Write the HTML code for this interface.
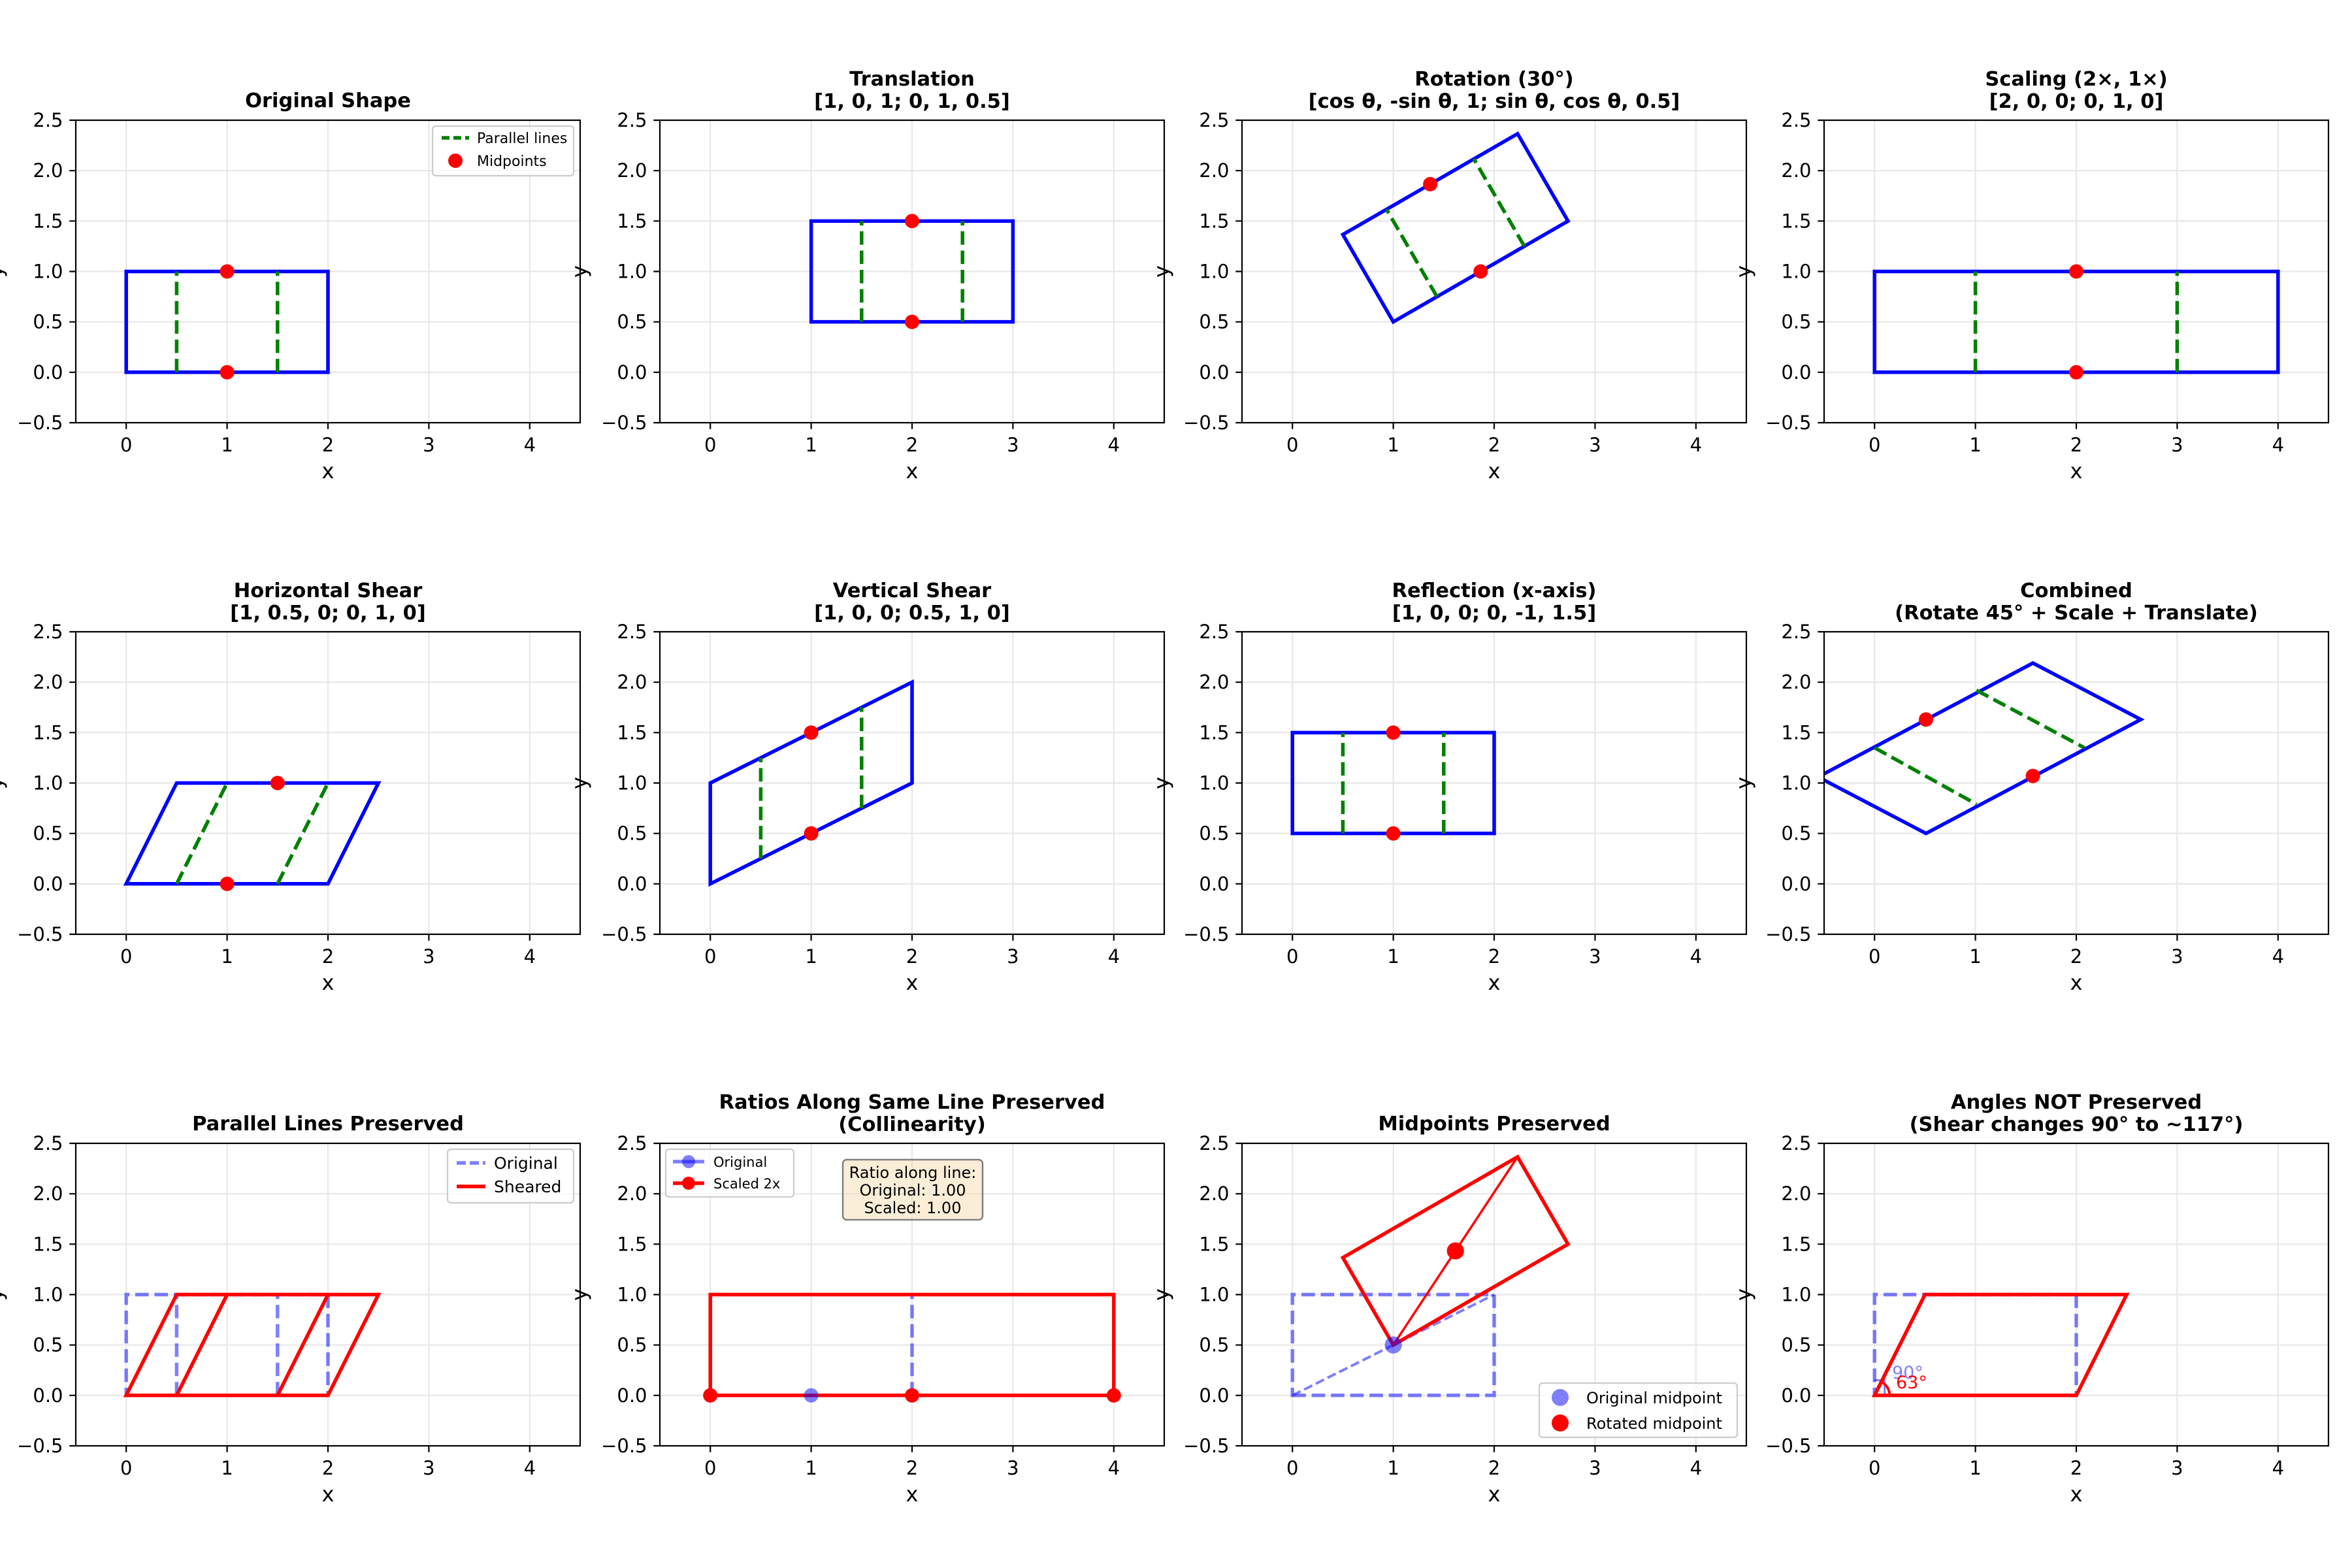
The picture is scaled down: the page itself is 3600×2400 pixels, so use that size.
<!DOCTYPE html>
<html><head><meta charset="utf-8"><style>
html,body{margin:0;padding:0;background:#fff}
svg{display:block}
text{font-family:"DejaVu Sans","Liberation Sans",sans-serif;fill:#000}
.grid{stroke:#b0b0b0;stroke-opacity:.3;stroke-width:2.2;fill:none}
.frame{fill:none;stroke:#000;stroke-width:2.2}
.tk{stroke:#000;stroke-width:2.2;fill:none}
.xt text{font-size:29px;text-anchor:middle}
.yt text{font-size:29px;text-anchor:end}
.xl{font-size:32px;text-anchor:middle}
.yl{font-size:32px;text-anchor:middle}
.t{font-size:30.5px;font-weight:bold;text-anchor:middle}
.s{fill:none;vector-effect:non-scaling-stroke;stroke-width:5.5;stroke-linejoin:miter}
.b{stroke:#0000ff}
.r{stroke:#ff0000}
.g{stroke:#008000;stroke-dasharray:20.6 8.9}
.ob{stroke:#0000ff;stroke-opacity:.5;stroke-dasharray:20.6 8.9}
.lg{fill:#fff;fill-opacity:.8;stroke:#ccc;stroke-width:2.2}
</style></head><body>
<svg width="3600" height="2400" viewBox="0 0 3600 2400" xmlns="http://www.w3.org/2000/svg">
<defs><clipPath id="c" clipPathUnits="userSpaceOnUse"><rect x="-0.5" y="-0.5" width="5" height="3"/></clipPath></defs>
<rect width="3600" height="2400" fill="#fff"/>

<!-- Panel 1 -->
<g transform="translate(116,184)">
<path class="grid" d="M77.2 0V463M231.6 0V463M386 0V463M540.4 0V463M694.8 0V463M0 77.2H772M0 154.3H772M0 231.5H772M0 308.7H772M0 385.8H772"/>
<g transform="translate(77.2,385.8) scale(154.4,-154.3)" clip-path="url(#c)">
<path class="s b" d="M0 0H2V1H0Z"/>
<path class="s g" d="M0.5 0V1M1.5 0V1"/>
<circle cx="1" cy="0" r="0.0713" fill="#f00"/><circle cx="1" cy="1" r="0.0713" fill="#f00"/>
</g>
<rect class="frame" width="772" height="463"/>
<path class="tk" d="M77.2 463v9.7M231.6 463v9.7M386 463v9.7M540.4 463v9.7M694.8 463v9.7M0 0h-9.7M0 77.2h-9.7M0 154.3h-9.7M0 231.5h-9.7M0 308.7h-9.7M0 385.8h-9.7M0 463h-9.7"/>
<g class="xt"><text x="77.2" y="507">0</text><text x="231.6" y="507">1</text><text x="386" y="507">2</text><text x="540.4" y="507">3</text><text x="694.8" y="507">4</text></g>
<g class="yt"><text x="-19.5" y="10">2.5</text><text x="-19.5" y="87.2">2.0</text><text x="-19.5" y="164.3">1.5</text><text x="-19.5" y="241.5">1.0</text><text x="-19.5" y="318.7">0.5</text><text x="-19.5" y="395.8">0.0</text><text x="-19.5" y="473">−0.5</text></g>
<text class="xl" x="386" y="548">x</text>
<text class="yl" transform="translate(-112,231.5) rotate(-90)">y</text>
<text class="t" x="386" y="-20">Original Shape</text>
<rect class="lg" x="546" y="9" width="216" height="76" rx="5"/>
<path d="M560 27H602" stroke="#008000" stroke-width="5.5" stroke-dasharray="12 6"/>
<text x="614" y="35" font-size="22">Parallel lines</text>
<circle cx="581" cy="62" r="11" fill="#f00"/>
<text x="614" y="70" font-size="22">Midpoints</text>
</g>

<!-- Panel 2 -->
<g transform="translate(1010,184)">
<path class="grid" d="M77.2 0V463M231.6 0V463M386 0V463M540.4 0V463M694.8 0V463M0 77.2H772M0 154.3H772M0 231.5H772M0 308.7H772M0 385.8H772"/>
<g transform="translate(77.2,385.8) scale(154.4,-154.3)" clip-path="url(#c)">
<path class="s b" d="M1 0.5H3V1.5H1Z"/>
<path class="s g" d="M1.5 0.5V1.5M2.5 0.5V1.5"/>
<circle cx="2" cy="0.5" r="0.0713" fill="#f00"/><circle cx="2" cy="1.5" r="0.0713" fill="#f00"/>
</g>
<rect class="frame" width="772" height="463"/>
<path class="tk" d="M77.2 463v9.7M231.6 463v9.7M386 463v9.7M540.4 463v9.7M694.8 463v9.7M0 0h-9.7M0 77.2h-9.7M0 154.3h-9.7M0 231.5h-9.7M0 308.7h-9.7M0 385.8h-9.7M0 463h-9.7"/>
<g class="xt"><text x="77.2" y="507">0</text><text x="231.6" y="507">1</text><text x="386" y="507">2</text><text x="540.4" y="507">3</text><text x="694.8" y="507">4</text></g>
<g class="yt"><text x="-19.5" y="10">2.5</text><text x="-19.5" y="87.2">2.0</text><text x="-19.5" y="164.3">1.5</text><text x="-19.5" y="241.5">1.0</text><text x="-19.5" y="318.7">0.5</text><text x="-19.5" y="395.8">0.0</text><text x="-19.5" y="473">−0.5</text></g>
<text class="xl" x="386" y="548">x</text>
<text class="yl" transform="translate(-112,231.5) rotate(-90)">y</text>
<text class="t" x="386" y="-53">Translation</text>
<text class="t" x="386" y="-19">[1, 0, 1; 0, 1, 0.5]</text>
</g>

<!-- Panel 3 -->
<g transform="translate(1901,184)">
<path class="grid" d="M77.2 0V463M231.6 0V463M386 0V463M540.4 0V463M694.8 0V463M0 77.2H772M0 154.3H772M0 231.5H772M0 308.7H772M0 385.8H772"/>
<g transform="translate(77.2,385.8) scale(154.4,-154.3)" clip-path="url(#c)">
<path class="s b" d="M1 0.5L2.732 1.5L2.232 2.366L0.5 1.366Z"/>
<path class="s g" d="M1.433 0.75L0.933 1.616M2.299 1.25L1.799 2.116"/>
<circle cx="1.866" cy="1" r="0.0713" fill="#f00"/><circle cx="1.366" cy="1.866" r="0.0713" fill="#f00"/>
</g>
<rect class="frame" width="772" height="463"/>
<path class="tk" d="M77.2 463v9.7M231.6 463v9.7M386 463v9.7M540.4 463v9.7M694.8 463v9.7M0 0h-9.7M0 77.2h-9.7M0 154.3h-9.7M0 231.5h-9.7M0 308.7h-9.7M0 385.8h-9.7M0 463h-9.7"/>
<g class="xt"><text x="77.2" y="507">0</text><text x="231.6" y="507">1</text><text x="386" y="507">2</text><text x="540.4" y="507">3</text><text x="694.8" y="507">4</text></g>
<g class="yt"><text x="-19.5" y="10">2.5</text><text x="-19.5" y="87.2">2.0</text><text x="-19.5" y="164.3">1.5</text><text x="-19.5" y="241.5">1.0</text><text x="-19.5" y="318.7">0.5</text><text x="-19.5" y="395.8">0.0</text><text x="-19.5" y="473">−0.5</text></g>
<text class="xl" x="386" y="548">x</text>
<text class="yl" transform="translate(-112,231.5) rotate(-90)">y</text>
<text class="t" x="386" y="-53">Rotation (30°)</text>
<text class="t" x="386" y="-19">[cos θ, -sin θ, 1; sin θ, cos θ, 0.5]</text>
</g>

<!-- Panel 4 -->
<g transform="translate(2792,184)">
<path class="grid" d="M77.2 0V463M231.6 0V463M386 0V463M540.4 0V463M694.8 0V463M0 77.2H772M0 154.3H772M0 231.5H772M0 308.7H772M0 385.8H772"/>
<g transform="translate(77.2,385.8) scale(154.4,-154.3)" clip-path="url(#c)">
<path class="s b" d="M0 0H4V1H0Z"/>
<path class="s g" d="M1 0V1M3 0V1"/>
<circle cx="2" cy="0" r="0.0713" fill="#f00"/><circle cx="2" cy="1" r="0.0713" fill="#f00"/>
</g>
<rect class="frame" width="772" height="463"/>
<path class="tk" d="M77.2 463v9.7M231.6 463v9.7M386 463v9.7M540.4 463v9.7M694.8 463v9.7M0 0h-9.7M0 77.2h-9.7M0 154.3h-9.7M0 231.5h-9.7M0 308.7h-9.7M0 385.8h-9.7M0 463h-9.7"/>
<g class="xt"><text x="77.2" y="507">0</text><text x="231.6" y="507">1</text><text x="386" y="507">2</text><text x="540.4" y="507">3</text><text x="694.8" y="507">4</text></g>
<g class="yt"><text x="-19.5" y="10">2.5</text><text x="-19.5" y="87.2">2.0</text><text x="-19.5" y="164.3">1.5</text><text x="-19.5" y="241.5">1.0</text><text x="-19.5" y="318.7">0.5</text><text x="-19.5" y="395.8">0.0</text><text x="-19.5" y="473">−0.5</text></g>
<text class="xl" x="386" y="548">x</text>
<text class="yl" transform="translate(-112,231.5) rotate(-90)">y</text>
<text class="t" x="386" y="-53">Scaling (2×, 1×)</text>
<text class="t" x="386" y="-19">[2, 0, 0; 0, 1, 0]</text>
</g>

<!-- Panel 5 -->
<g transform="translate(116,967)">
<path class="grid" d="M77.2 0V463M231.6 0V463M386 0V463M540.4 0V463M694.8 0V463M0 77.2H772M0 154.3H772M0 231.5H772M0 308.7H772M0 385.8H772"/>
<g transform="translate(77.2,385.8) scale(154.4,-154.3)" clip-path="url(#c)">
<path class="s b" d="M0 0H2L2.5 1H0.5Z"/>
<path class="s g" d="M0.5 0L1 1M1.5 0L2 1"/>
<circle cx="1" cy="0" r="0.0713" fill="#f00"/><circle cx="1.5" cy="1" r="0.0713" fill="#f00"/>
</g>
<rect class="frame" width="772" height="463"/>
<path class="tk" d="M77.2 463v9.7M231.6 463v9.7M386 463v9.7M540.4 463v9.7M694.8 463v9.7M0 0h-9.7M0 77.2h-9.7M0 154.3h-9.7M0 231.5h-9.7M0 308.7h-9.7M0 385.8h-9.7M0 463h-9.7"/>
<g class="xt"><text x="77.2" y="507">0</text><text x="231.6" y="507">1</text><text x="386" y="507">2</text><text x="540.4" y="507">3</text><text x="694.8" y="507">4</text></g>
<g class="yt"><text x="-19.5" y="10">2.5</text><text x="-19.5" y="87.2">2.0</text><text x="-19.5" y="164.3">1.5</text><text x="-19.5" y="241.5">1.0</text><text x="-19.5" y="318.7">0.5</text><text x="-19.5" y="395.8">0.0</text><text x="-19.5" y="473">−0.5</text></g>
<text class="xl" x="386" y="548">x</text>
<text class="yl" transform="translate(-112,231.5) rotate(-90)">y</text>
<text class="t" x="386" y="-53">Horizontal Shear</text>
<text class="t" x="386" y="-19">[1, 0.5, 0; 0, 1, 0]</text>
</g>

<!-- Panel 6 -->
<g transform="translate(1010,967)">
<path class="grid" d="M77.2 0V463M231.6 0V463M386 0V463M540.4 0V463M694.8 0V463M0 77.2H772M0 154.3H772M0 231.5H772M0 308.7H772M0 385.8H772"/>
<g transform="translate(77.2,385.8) scale(154.4,-154.3)" clip-path="url(#c)">
<path class="s b" d="M0 0L2 1V2L0 1Z"/>
<path class="s g" d="M0.5 0.25V1.25M1.5 0.75V1.75"/>
<circle cx="1" cy="0.5" r="0.0713" fill="#f00"/><circle cx="1" cy="1.5" r="0.0713" fill="#f00"/>
</g>
<rect class="frame" width="772" height="463"/>
<path class="tk" d="M77.2 463v9.7M231.6 463v9.7M386 463v9.7M540.4 463v9.7M694.8 463v9.7M0 0h-9.7M0 77.2h-9.7M0 154.3h-9.7M0 231.5h-9.7M0 308.7h-9.7M0 385.8h-9.7M0 463h-9.7"/>
<g class="xt"><text x="77.2" y="507">0</text><text x="231.6" y="507">1</text><text x="386" y="507">2</text><text x="540.4" y="507">3</text><text x="694.8" y="507">4</text></g>
<g class="yt"><text x="-19.5" y="10">2.5</text><text x="-19.5" y="87.2">2.0</text><text x="-19.5" y="164.3">1.5</text><text x="-19.5" y="241.5">1.0</text><text x="-19.5" y="318.7">0.5</text><text x="-19.5" y="395.8">0.0</text><text x="-19.5" y="473">−0.5</text></g>
<text class="xl" x="386" y="548">x</text>
<text class="yl" transform="translate(-112,231.5) rotate(-90)">y</text>
<text class="t" x="386" y="-53">Vertical Shear</text>
<text class="t" x="386" y="-19">[1, 0, 0; 0.5, 1, 0]</text>
</g>

<!-- Panel 7 -->
<g transform="translate(1901,967)">
<path class="grid" d="M77.2 0V463M231.6 0V463M386 0V463M540.4 0V463M694.8 0V463M0 77.2H772M0 154.3H772M0 231.5H772M0 308.7H772M0 385.8H772"/>
<g transform="translate(77.2,385.8) scale(154.4,-154.3)" clip-path="url(#c)">
<path class="s b" d="M0 0.5H2V1.5H0Z"/>
<path class="s g" d="M0.5 0.5V1.5M1.5 0.5V1.5"/>
<circle cx="1" cy="0.5" r="0.0713" fill="#f00"/><circle cx="1" cy="1.5" r="0.0713" fill="#f00"/>
</g>
<rect class="frame" width="772" height="463"/>
<path class="tk" d="M77.2 463v9.7M231.6 463v9.7M386 463v9.7M540.4 463v9.7M694.8 463v9.7M0 0h-9.7M0 77.2h-9.7M0 154.3h-9.7M0 231.5h-9.7M0 308.7h-9.7M0 385.8h-9.7M0 463h-9.7"/>
<g class="xt"><text x="77.2" y="507">0</text><text x="231.6" y="507">1</text><text x="386" y="507">2</text><text x="540.4" y="507">3</text><text x="694.8" y="507">4</text></g>
<g class="yt"><text x="-19.5" y="10">2.5</text><text x="-19.5" y="87.2">2.0</text><text x="-19.5" y="164.3">1.5</text><text x="-19.5" y="241.5">1.0</text><text x="-19.5" y="318.7">0.5</text><text x="-19.5" y="395.8">0.0</text><text x="-19.5" y="473">−0.5</text></g>
<text class="xl" x="386" y="548">x</text>
<text class="yl" transform="translate(-112,231.5) rotate(-90)">y</text>
<text class="t" x="386" y="-53">Reflection (x-axis)</text>
<text class="t" x="386" y="-19">[1, 0, 0; 0, -1, 1.5]</text>
</g>

<!-- Panel 8 -->
<g transform="translate(2792,967)">
<path class="grid" d="M77.2 0V463M231.6 0V463M386 0V463M540.4 0V463M694.8 0V463M0 77.2H772M0 154.3H772M0 231.5H772M0 308.7H772M0 385.8H772"/>
<g transform="translate(77.2,385.8) scale(154.4,-154.3)" clip-path="url(#c)">
<path class="s b" d="M0.51 0.5L2.64 1.63L1.57 2.19L-0.56 1.06Z"/>
<path class="s g" d="M0 1.35L1.01 0.79M1.01 1.92L2.08 1.35"/>
<circle cx="0.51" cy="1.63" r="0.0713" fill="#f00"/><circle cx="1.57" cy="1.07" r="0.0713" fill="#f00"/>
</g>
<rect class="frame" width="772" height="463"/>
<path class="tk" d="M77.2 463v9.7M231.6 463v9.7M386 463v9.7M540.4 463v9.7M694.8 463v9.7M0 0h-9.7M0 77.2h-9.7M0 154.3h-9.7M0 231.5h-9.7M0 308.7h-9.7M0 385.8h-9.7M0 463h-9.7"/>
<g class="xt"><text x="77.2" y="507">0</text><text x="231.6" y="507">1</text><text x="386" y="507">2</text><text x="540.4" y="507">3</text><text x="694.8" y="507">4</text></g>
<g class="yt"><text x="-19.5" y="10">2.5</text><text x="-19.5" y="87.2">2.0</text><text x="-19.5" y="164.3">1.5</text><text x="-19.5" y="241.5">1.0</text><text x="-19.5" y="318.7">0.5</text><text x="-19.5" y="395.8">0.0</text><text x="-19.5" y="473">−0.5</text></g>
<text class="xl" x="386" y="548">x</text>
<text class="yl" transform="translate(-112,231.5) rotate(-90)">y</text>
<text class="t" x="386" y="-53">Combined</text>
<text class="t" x="386" y="-19">(Rotate 45° + Scale + Translate)</text>
</g>

<!-- Panel 9 -->
<g transform="translate(116,1750)">
<path class="grid" d="M77.2 0V463M231.6 0V463M386 0V463M540.4 0V463M694.8 0V463M0 77.2H772M0 154.3H772M0 231.5H772M0 308.7H772M0 385.8H772"/>
<g transform="translate(77.2,385.8) scale(154.4,-154.3)" clip-path="url(#c)">
<path class="s ob" d="M0 0H2V1H0Z"/>
<path class="s ob" d="M0.5 0V1M1.5 0V1"/>
<path class="s r" d="M0 0H2L2.5 1H0.5Z"/>
<path class="s r" d="M0.5 0L1 1M1.5 0L2 1"/>
</g>
<rect class="frame" width="772" height="463"/>
<path class="tk" d="M77.2 463v9.7M231.6 463v9.7M386 463v9.7M540.4 463v9.7M694.8 463v9.7M0 0h-9.7M0 77.2h-9.7M0 154.3h-9.7M0 231.5h-9.7M0 308.7h-9.7M0 385.8h-9.7M0 463h-9.7"/>
<g class="xt"><text x="77.2" y="507">0</text><text x="231.6" y="507">1</text><text x="386" y="507">2</text><text x="540.4" y="507">3</text><text x="694.8" y="507">4</text></g>
<g class="yt"><text x="-19.5" y="10">2.5</text><text x="-19.5" y="87.2">2.0</text><text x="-19.5" y="164.3">1.5</text><text x="-19.5" y="241.5">1.0</text><text x="-19.5" y="318.7">0.5</text><text x="-19.5" y="395.8">0.0</text><text x="-19.5" y="473">−0.5</text></g>
<text class="xl" x="386" y="548">x</text>
<text class="yl" transform="translate(-112,231.5) rotate(-90)">y</text>
<text class="t" x="386" y="-20">Parallel Lines Preserved</text>
<rect class="lg" x="569" y="9" width="193" height="82" rx="5"/>
<path d="M583 30H627" stroke="#00f" stroke-opacity=".5" stroke-width="5.5" stroke-dasharray="14 6"/>
<text x="640" y="39" font-size="25">Original</text>
<path d="M583 66H627" stroke="#f00" stroke-width="5.5"/>
<text x="640" y="75" font-size="25">Sheared</text>
</g>

<!-- Panel 10 -->
<g transform="translate(1010,1750)">
<path class="grid" d="M77.2 0V463M231.6 0V463M386 0V463M540.4 0V463M694.8 0V463M0 77.2H772M0 154.3H772M0 231.5H772M0 308.7H772M0 385.8H772"/>
<g transform="translate(77.2,385.8) scale(154.4,-154.3)" clip-path="url(#c)">
<path class="s ob" d="M2 0V1"/>
<path class="s r" d="M0 0H4V1H0Z"/>
<circle cx="1" cy="0" r="0.0713" fill="#00f" fill-opacity=".5"/>
<circle cx="0" cy="0" r="0.0713" fill="#f00"/><circle cx="2" cy="0" r="0.0713" fill="#f00"/><circle cx="4" cy="0" r="0.0713" fill="#f00"/>
</g>
<rect class="frame" width="772" height="463"/>
<path class="tk" d="M77.2 463v9.7M231.6 463v9.7M386 463v9.7M540.4 463v9.7M694.8 463v9.7M0 0h-9.7M0 77.2h-9.7M0 154.3h-9.7M0 231.5h-9.7M0 308.7h-9.7M0 385.8h-9.7M0 463h-9.7"/>
<g class="xt"><text x="77.2" y="507">0</text><text x="231.6" y="507">1</text><text x="386" y="507">2</text><text x="540.4" y="507">3</text><text x="694.8" y="507">4</text></g>
<g class="yt"><text x="-19.5" y="10">2.5</text><text x="-19.5" y="87.2">2.0</text><text x="-19.5" y="164.3">1.5</text><text x="-19.5" y="241.5">1.0</text><text x="-19.5" y="318.7">0.5</text><text x="-19.5" y="395.8">0.0</text><text x="-19.5" y="473">−0.5</text></g>
<text class="xl" x="386" y="548">x</text>
<text class="yl" transform="translate(-112,231.5) rotate(-90)">y</text>
<text class="t" x="386" y="-53">Ratios Along Same Line Preserved</text>
<text class="t" x="386" y="-19">(Collinearity)</text>
<rect class="lg" x="9" y="9" width="196" height="73" rx="5"/>
<path d="M20 28H68" stroke="#00f" stroke-opacity=".5" stroke-width="5.5"/><circle cx="44" cy="28" r="10" fill="#00f" fill-opacity=".5"/>
<text x="82" y="36" font-size="21">Original</text>
<path d="M20 61H68" stroke="#f00" stroke-width="5.5"/><circle cx="44" cy="61" r="10" fill="#f00"/>
<text x="82" y="69" font-size="21">Scaled 2x</text>
<rect x="280" y="25" width="214" height="92" rx="6" fill="#f5deb3" fill-opacity=".5" stroke="#808080" stroke-width="2.5"/>
<text x="387" y="53" font-size="24" text-anchor="middle">Ratio along line:</text>
<text x="387" y="80" font-size="24" text-anchor="middle">Original: 1.00</text>
<text x="387" y="107" font-size="24" text-anchor="middle">Scaled: 1.00</text>
</g>

<!-- Panel 11 -->
<g transform="translate(1901,1750)">
<path class="grid" d="M77.2 0V463M231.6 0V463M386 0V463M540.4 0V463M694.8 0V463M0 77.2H772M0 154.3H772M0 231.5H772M0 308.7H772M0 385.8H772"/>
<g transform="translate(77.2,385.8) scale(154.4,-154.3)" clip-path="url(#c)">
<path class="s ob" d="M0 0H2V1H0Z"/>
<path class="s" style="stroke:#00f;stroke-opacity:.5;stroke-width:4;stroke-dasharray:14 6" d="M0 0L2 1"/>
<path class="s r" d="M1 0.5L2.732 1.5L2.232 2.366L0.5 1.366Z"/>
<path class="s r" style="stroke-width:3.5" d="M1 0.5L2.232 2.366"/>
<circle cx="1" cy="0.5" r="0.085" fill="#00f" fill-opacity=".5"/>
<circle cx="1.616" cy="1.433" r="0.085" fill="#f00"/>
</g>
<rect class="frame" width="772" height="463"/>
<path class="tk" d="M77.2 463v9.7M231.6 463v9.7M386 463v9.7M540.4 463v9.7M694.8 463v9.7M0 0h-9.7M0 77.2h-9.7M0 154.3h-9.7M0 231.5h-9.7M0 308.7h-9.7M0 385.8h-9.7M0 463h-9.7"/>
<g class="xt"><text x="77.2" y="507">0</text><text x="231.6" y="507">1</text><text x="386" y="507">2</text><text x="540.4" y="507">3</text><text x="694.8" y="507">4</text></g>
<g class="yt"><text x="-19.5" y="10">2.5</text><text x="-19.5" y="87.2">2.0</text><text x="-19.5" y="164.3">1.5</text><text x="-19.5" y="241.5">1.0</text><text x="-19.5" y="318.7">0.5</text><text x="-19.5" y="395.8">0.0</text><text x="-19.5" y="473">−0.5</text></g>
<text class="xl" x="386" y="548">x</text>
<text class="yl" transform="translate(-112,231.5) rotate(-90)">y</text>
<text class="t" x="386" y="-20">Midpoints Preserved</text>
<rect class="lg" x="455" y="367" width="303" height="83" rx="5"/>
<circle cx="487" cy="389" r="13" fill="#00f" fill-opacity=".5"/>
<text x="527" y="398" font-size="24">Original midpoint</text>
<circle cx="487" cy="428" r="13" fill="#f00"/>
<text x="527" y="437" font-size="24">Rotated midpoint</text>
</g>

<!-- Panel 12 -->
<g transform="translate(2792,1750)">
<path class="grid" d="M77.2 0V463M231.6 0V463M386 0V463M540.4 0V463M694.8 0V463M0 77.2H772M0 154.3H772M0 231.5H772M0 308.7H772M0 385.8H772"/>
<g transform="translate(77.2,385.8) scale(154.4,-154.3)" clip-path="url(#c)">
<path class="s ob" d="M0 0H2V1H0Z"/>
<path class="s" style="stroke:#00f;stroke-opacity:.5;stroke-width:3" d="M0 0.15H0.1V0"/>
<path class="s r" d="M0 0H2L2.5 1H0.5Z"/>
<path class="s r" style="stroke-width:4" d="M0.15 0A0.15 0.15 0 0 1 0.067 0.134"/>
</g>
<rect class="frame" width="772" height="463"/>
<path class="tk" d="M77.2 463v9.7M231.6 463v9.7M386 463v9.7M540.4 463v9.7M694.8 463v9.7M0 0h-9.7M0 77.2h-9.7M0 154.3h-9.7M0 231.5h-9.7M0 308.7h-9.7M0 385.8h-9.7M0 463h-9.7"/>
<g class="xt"><text x="77.2" y="507">0</text><text x="231.6" y="507">1</text><text x="386" y="507">2</text><text x="540.4" y="507">3</text><text x="694.8" y="507">4</text></g>
<g class="yt"><text x="-19.5" y="10">2.5</text><text x="-19.5" y="87.2">2.0</text><text x="-19.5" y="164.3">1.5</text><text x="-19.5" y="241.5">1.0</text><text x="-19.5" y="318.7">0.5</text><text x="-19.5" y="395.8">0.0</text><text x="-19.5" y="473">−0.5</text></g>
<text x="104" y="360" font-size="27" style="fill:#8080ff">90°</text>
<text x="110" y="375" font-size="27" style="fill:#f00">63°</text>
<text class="xl" x="386" y="548">x</text>
<text class="yl" transform="translate(-112,231.5) rotate(-90)">y</text>
<text class="t" x="386" y="-53">Angles NOT Preserved</text>
<text class="t" x="386" y="-19">(Shear changes 90° to ~117°)</text>
</g>
</svg>
</body></html>
